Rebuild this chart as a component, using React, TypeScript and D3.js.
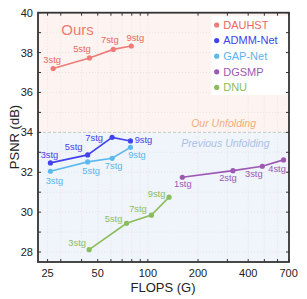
import React from 'react'
import * as d3 from 'd3'

// FLOPS (G) / PSNR (dB)
const dauhstFlops = [27, 44.6, 62, 79.5]
const dauhstPsnr = [37.2, 37.73, 38.16, 38.33]
const dauhstStages = ['3stg', '5stg', '7stg', '9stg']

const admmFlops = [26, 43.5, 61, 78.6]
const admmPsnr = [32.47, 32.87, 33.75, 33.57]
const admmStages = ['3stg', '5stg', '7stg', '9stg']

const gapFlops = [26, 43.5, 61, 78.6]
const gapPsnr = [32.05, 32.52, 32.7, 33.25]
const gapStages = ['3stg', '5stg', '7stg', '9stg']

const dgsmpFlops = [161, 324, 486, 652]
const dgsmpPsnr = [31.75, 32.08, 32.3, 32.62]
const dgsmpStages = ['1stg', '2stg', '3stg', '4stg']

const dnuFlops = [44.4, 74.5, 105, 134]
const dnuPsnr = [28.12, 29.44, 29.85, 30.75]
const dnuStages = ['3stg', '5stg', '7stg', '9stg']

const xTickLabels = [25, 50, 100, 200, 400, 700]
const xMinorTicks = [25, 30, 40, 50, 60, 70, 80, 90, 100, 200, 300, 400, 500, 600, 700]
const yTickLabels = [28, 30, 32, 34, 36, 38, 40]

// label placement (dx, dy from the point)
const labelOffsets: Record<string, [number, number][]> = {
  DAUHST: [[-1, -5.5], [-7.5, -5.5], [-3.5, -6], [4, -5.5]],
  'ADMM-Net': [[-1, -5], [-14, -5], [-18, 3.5], [13, 2]],
  'GAP-Net': [[4, 12.5], [3.5, 12.5], [1.5, 10.5], [6.5, 10.5]],
  DGSMP: [[0.5, 10], [-5, 10.5], [-8.5, 10.5], [-6.5, 12.5]],
  DNU: [[-12, -3.5], [-13, -1.5], [-13.5, -3], [-12.5, -0.5]],
}

const series = [
  { name: 'DAUHST', color: '#ee7b78', text: '#e8675f', flops: dauhstFlops, psnr: dauhstPsnr, stages: dauhstStages },
  { name: 'ADMM-Net', color: '#4242ee', text: '#4242ee', flops: admmFlops, psnr: admmPsnr, stages: admmStages },
  { name: 'GAP-Net', color: '#5cb9ef', text: '#5cb4ef', flops: gapFlops, psnr: gapPsnr, stages: gapStages },
  { name: 'DGSMP', color: '#9c58b4', text: '#9c58b4', flops: dgsmpFlops, psnr: dgsmpPsnr, stages: dgsmpStages },
  { name: 'DNU', color: '#8bbd5c', text: '#8bbd5c', flops: dnuFlops, psnr: dnuPsnr, stages: dnuStages },
]

const W = 307
const H = 299
const left = 38, right = 289, top = 12.7, bottom = 262
const font = '"Liberation Sans", Arial, sans-serif'

export default function App() {
  const x = d3.scaleLog().domain([21.9, 703]).range([left, right])
  const y = d3.scaleLinear().domain([27.5, 40]).range([bottom, top])
  const line = d3.line<[number, number]>().x(d => x(d[0])).y(d => y(d[1]))
  const ySplit = y(34)
  const yGrid = d3.range(28, 41, 1)

  return (
    <svg width={W} height={H} style={{ position: 'absolute', left: 0, top: 0, fontFamily: font }}>
      <rect x={left} y={top} width={right - left} height={ySplit - top} fill="#fdf4f1" />
      <rect x={left} y={ySplit} width={right - left} height={bottom - ySplit} fill="#f0f4fb" />

      {/* grid */}
      {xMinorTicks.map(v => (
        <line key={'gx' + v} x1={x(v)} x2={x(v)} y1={top} y2={bottom} stroke="#dcdcdc" strokeWidth={0.6} strokeDasharray="1,2" />
      ))}
      {yGrid.map(v => (
        <line key={'gy' + v} x1={left} x2={right} y1={y(v)} y2={y(v)} stroke="#dcdcdc" strokeWidth={0.6} strokeDasharray="1,2" />
      ))}
      <line x1={left} x2={right} y1={ySplit} y2={ySplit} stroke="#bdbdbd" strokeWidth={0.8} strokeDasharray="3,2" />

      <text x={77.5} y={35} textAnchor="middle" fontSize={15} fill="#ee7b72">Ours</text>
      <text x={256} y={126.5} textAnchor="end" fontSize={10.5} fontStyle="italic" fill="#f2ad7e">Our Unfolding</text>
      <text x={269.5} y={146.5} textAnchor="end" fontSize={10.5} fontStyle="italic" fill="#abbfe6">Previous Unfolding</text>

      {series.map(s => {
        const pts = s.flops.map((f, i) => [f, s.psnr[i]] as [number, number])
        return (
          <g key={s.name}>
            <path d={line(pts) || ''} fill="none" stroke={s.color} strokeWidth={1.6} />
            {pts.map((p, i) => (
              <circle key={i} cx={x(p[0])} cy={y(p[1])} r={2.6} fill={s.color} />
            ))}
            {pts.map((p, i) => (
              <text key={'t' + i} x={x(p[0]) + labelOffsets[s.name][i][0]} y={y(p[1]) + labelOffsets[s.name][i][1]}
                textAnchor="middle" fontSize={9.3} fill={s.text}>{s.stages[i]}</text>
            ))}
          </g>
        )
      })}

      {/* legend */}
      <rect x={211.5} y={16} width={right - 211.5} height={79} fill="#ffffff" />
      {series.map((s, i) => (
        <g key={'lg' + s.name} transform={`translate(216.7,${25 + i * 15.6})`}>
          <circle r={2.6} fill={s.color} />
          <text x={6.5} y={3.8} fontSize={11} fill={s.text}>{s.name}</text>
        </g>
      ))}

      {/* ticks */}
      {xMinorTicks.map(v => (
        <g key={'tx' + v}>
          <line x1={x(v)} x2={x(v)} y1={bottom} y2={bottom - 3} stroke="#333" strokeWidth={1} />
          <line x1={x(v)} x2={x(v)} y1={top} y2={top + 3} stroke="#333" strokeWidth={1} />
        </g>
      ))}
      {yGrid.map(v => (
        <g key={'ty' + v}>
          <line x1={left} x2={left + 3} y1={y(v)} y2={y(v)} stroke="#333" strokeWidth={1} />
          <line x1={right} x2={right - 3} y1={y(v)} y2={y(v)} stroke="#333" strokeWidth={1} />
        </g>
      ))}
      <rect x={left} y={top} width={right - left} height={bottom - top} fill="none" stroke="#333" strokeWidth={1.8} />

      {xTickLabels.map(v => (
        <text key={'lx' + v} x={x(v)} y={277} textAnchor="middle" fontSize={11} fill="#222">{v}</text>
      ))}
      {yTickLabels.map(v => (
        <text key={'ly' + v} x={33} y={y(v) + 4} textAnchor="end" fontSize={11} fill="#222">{v}</text>
      ))}

      <text x={163} y={292} textAnchor="middle" fontSize={13} fill="#222">FLOPS (G)</text>
      <text transform={`translate(18.5,137) rotate(-90)`} textAnchor="middle" fontSize={13} fill="#222">PSNR (dB)</text>
    </svg>
  )
}
